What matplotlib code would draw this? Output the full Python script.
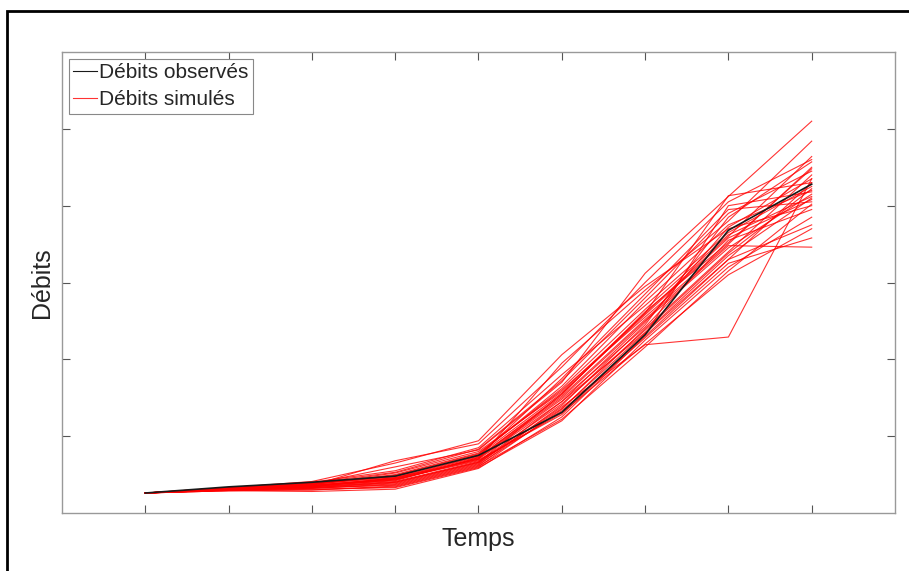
import numpy as np
import matplotlib.pyplot as plt

plt.rcParams['font.family'] = ['Liberation Sans', 'DejaVu Sans']
plt.rcParams['text.color'] = '#262626'
plt.rcParams['axes.labelcolor'] = '#262626'

# time steps
t = [1, 2, 3, 4, 5, 6, 7, 8, 9]

# observed discharge
obs = [0.26, 0.34, 0.40, 0.48, 0.75, 1.31, 2.32, 3.68, 4.28]

# simulated discharges (ensemble)
sim01 = [0.26, 0.32, 0.38, 0.60, 0.82, 1.70, 3.12, 4.12, 5.10]
sim02 = [0.26, 0.33, 0.36, 0.45, 0.70, 1.95, 2.90, 3.80, 4.84]
sim03 = [0.26, 0.30, 0.34, 0.40, 0.66, 1.55, 2.60, 3.60, 4.64]
sim04 = [0.26, 0.31, 0.33, 0.36, 0.62, 1.40, 2.45, 3.85, 4.57]
sim05 = [0.26, 0.32, 0.37, 0.50, 0.78, 1.60, 2.55, 3.50, 4.50]
sim06 = [0.26, 0.30, 0.30, 0.34, 0.60, 1.35, 2.40, 3.40, 4.40]
sim07 = [0.26, 0.29, 0.28, 0.31, 0.58, 1.25, 2.30, 3.30, 4.30]
sim08 = [0.26, 0.33, 0.40, 0.55, 0.85, 1.80, 2.70, 3.65, 4.25]
sim09 = [0.26, 0.31, 0.35, 0.42, 0.72, 1.50, 2.50, 3.45, 4.15]
sim10 = [0.26, 0.32, 0.39, 0.47, 0.76, 1.65, 2.75, 3.75, 4.20]
sim11 = [0.26, 0.30, 0.32, 0.38, 0.64, 1.45, 2.35, 3.35, 4.10]
sim12 = [0.26, 0.31, 0.36, 0.44, 0.68, 1.30, 2.20, 3.10, 3.70]
sim13 = [0.26, 0.29, 0.31, 0.33, 0.59, 1.20, 2.25, 3.20, 3.85]
sim14 = [0.26, 0.32, 0.34, 0.46, 0.74, 1.75, 2.85, 3.95, 4.05]
sim15 = [0.26, 0.33, 0.41, 0.65, 0.94, 2.06, 2.95, 3.70, 4.00]
sim16 = [0.26, 0.30, 0.33, 0.39, 0.65, 1.38, 2.19, 2.29, 4.35]
sim17 = [0.26, 0.31, 0.37, 0.52, 0.80, 1.58, 2.60, 4.13, 4.30]
sim18 = [0.26, 0.31, 0.35, 0.43, 0.71, 1.48, 2.42, 3.55, 3.95]
sim19 = [0.26, 0.32, 0.38, 0.49, 0.77, 1.62, 2.65, 3.62, 4.12]
sim20 = [0.26, 0.30, 0.32, 0.37, 0.63, 1.33, 2.28, 3.25, 3.58]
sim21 = [0.26, 0.31, 0.36, 0.45, 0.73, 1.52, 2.52, 3.48, 3.46]
sim22 = [0.26, 0.32, 0.39, 0.53, 0.83, 1.72, 2.80, 3.90, 4.45]
sim23 = [0.26, 0.30, 0.34, 0.41, 0.67, 1.42, 2.38, 3.38, 4.22]
sim24 = [0.26, 0.31, 0.35, 0.44, 0.69, 1.28, 2.32, 4.00, 4.18]
sim25 = [0.26, 0.32, 0.37, 0.48, 0.75, 1.56, 2.58, 3.58, 4.08]
sim26 = [0.26, 0.29, 0.30, 0.35, 0.61, 1.22, 2.16, 3.15, 4.02]
sim27 = [0.26, 0.31, 0.36, 0.68, 0.90, 1.90, 3.00, 4.05, 4.60]
sim28 = [0.26, 0.32, 0.38, 0.46, 0.70, 1.45, 2.48, 3.72, 4.35]
sim29 = [0.26, 0.30, 0.33, 0.40, 0.66, 1.36, 2.34, 3.30, 3.75]
sim30 = [0.26, 0.31, 0.35, 0.43, 0.72, 1.54, 2.62, 3.52, 4.48]

sims = [sim01, sim02, sim03, sim04, sim05, sim06, sim07, sim08, sim09, sim10,
        sim11, sim12, sim13, sim14, sim15, sim16, sim17, sim18, sim19, sim20,
        sim21, sim22, sim23, sim24, sim25, sim26, sim27, sim28, sim29, sim30]

fig = plt.figure(figsize=(9.09, 5.71), dpi=100)
ax = fig.add_axes([0.0682, 0.1016, 0.9164, 0.8073])

# outer black frame
frame = plt.Rectangle((6.5 / 909, -0.05), 1.2, 1 - 10.5 / 571 + 0.05,
                      transform=fig.transFigure, fill=False, ec='black',
                      lw=2, clip_on=False)
fig.patches.append(frame)

for k, s in enumerate(sims):
    ax.plot(t, s, color='red', lw=0.8, alpha=0.8,
            label='Débits simulés' if k == 0 else None)
ax.plot(t, obs, color='#1a1a1a', lw=1.2, zorder=3, label='Débits observés')

ax.set_xlim(0, 10)
ax.set_ylim(0, 6)
ax.set_xticks(range(1, 10))
ax.set_yticks(range(1, 6))
ax.tick_params(direction='in', length=6, width=0.8, color='#555555',
               labelbottom=False, labelleft=False,
               top=True, right=True)
for sp in ax.spines.values():
    sp.set_color('#999999')
    sp.set_linewidth(1.0)

ax.set_xlabel('Temps', fontsize=18, labelpad=10)
ax.set_ylabel('Débits', fontsize=18, labelpad=6)

h, l = ax.get_legend_handles_labels()
leg = ax.legend(h[::-1], l[::-1], loc='upper left', fontsize=15,
                handlelength=1.15, handletextpad=0.1, borderpad=0.2,
                borderaxespad=0.33, labelspacing=0.4, fancybox=False,
                framealpha=1, edgecolor='#888888')
leg.get_frame().set_linewidth(0.8)
for ln in leg.get_lines():
    ln.set_linewidth(0.8)

fig.savefig('out.png', dpi=100)
